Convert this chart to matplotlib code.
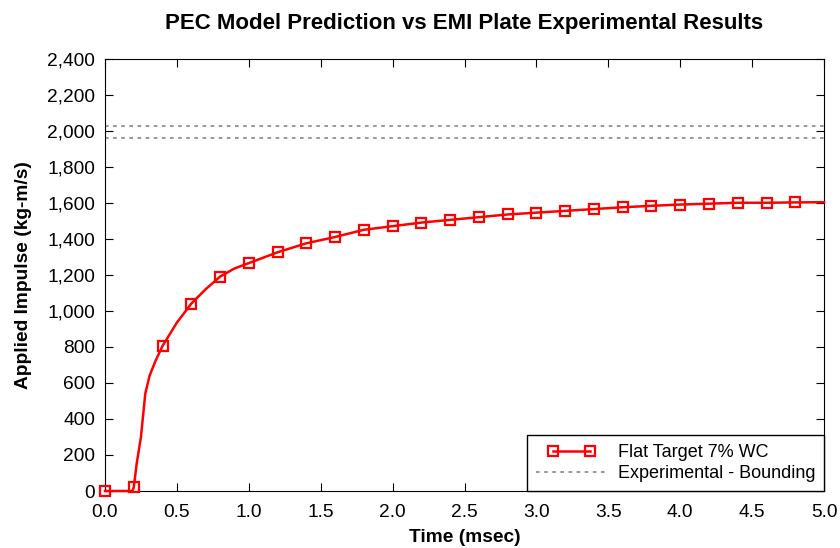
import matplotlib
matplotlib.use("Agg")
import matplotlib.pyplot as plt
from matplotlib.ticker import FuncFormatter, MultipleLocator
from matplotlib.legend_handler import HandlerLine2D

plt.rcParams['font.family'] = ['Liberation Sans', 'DejaVu Sans']

# predicted impulse curve (fine points for the line)
time_fine = [0.0, 0.19, 0.2, 0.22, 0.25, 0.28, 0.31, 0.35, 0.4, 0.5, 0.6, 0.7, 0.8, 0.9,
             1.0, 1.2, 1.4, 1.6, 1.8, 2.0, 2.2, 2.4, 2.6, 2.8, 3.0, 3.2, 3.4,
             3.6, 3.8, 4.0, 4.2, 4.4, 4.6, 4.8, 5.0]
impulse_fine = [0, 0, 20, 150, 300, 540, 640, 720, 805, 935, 1040, 1120, 1190, 1235,
                1265, 1325, 1375, 1410, 1450, 1470, 1490, 1505, 1520, 1535, 1545,
                1555, 1565, 1575, 1583, 1590, 1595, 1600, 1600, 1602, 1603]
# marker positions every 0.2 ms
marker_times = [round(0.2 * i, 1) for i in range(25)]

# experimental bounding values
exp_bounds = [2025, 1960]

fig, ax = plt.subplots(figsize=(8.4, 5.48), dpi=100)
fig.subplots_adjust(left=0.125, right=0.981, top=0.893, bottom=0.104)

mark_idx = [i for i, t in enumerate(time_fine) if round(t, 2) in marker_times]
pred, = ax.plot(time_fine, impulse_fine, color='red', lw=1.8, marker='s', markersize=6.5,
                markerfacecolor='none', markeredgewidth=1.6, markevery=mark_idx,
                label='Flat Target 7% WC', clip_on=False, zorder=3)
for i, b in enumerate(exp_bounds):
    ax.axhline(b, color='#909090', lw=1.3, ls=(0, (2, 2.5)),
               label='Experimental - Bounding' if i == 0 else None)

ax.set_xlim(0, 5)
ax.set_ylim(0, 2400)
ax.xaxis.set_major_locator(MultipleLocator(0.5))
ax.yaxis.set_major_locator(MultipleLocator(200))
ax.xaxis.set_major_formatter(FuncFormatter(lambda v, p: f'{v:.1f}'))
ax.yaxis.set_major_formatter(FuncFormatter(lambda v, p: f'{v:,.0f}'))
ax.tick_params(direction='in', top=True, right=True, length=6, labelsize=13.8,
               colors='black')
ax.tick_params(axis='x', pad=9)
ax.tick_params(axis='y', pad=7)

ax.set_xlabel('Time (msec)', fontsize=13.8, fontweight='bold', labelpad=6)
ax.set_ylabel('Applied Impulse (kg-m/s)', fontsize=13.8, fontweight='bold', labelpad=11)
ax.set_title('PEC Model Prediction vs EMI Plate Experimental Results',
             fontsize=16, fontweight='bold', pad=21)

leg = ax.legend(loc='lower right', borderaxespad=0, fontsize=13, fancybox=False,
                framealpha=1, edgecolor='black', handlelength=3.9, handletextpad=0.6,
                labelspacing=0.2, borderpad=0.5,
                handler_map={pred: HandlerLine2D(numpoints=2, marker_pad=0.95)})
leg.get_frame().set_linewidth(1.0)

plt.savefig('out.png', dpi=100)
